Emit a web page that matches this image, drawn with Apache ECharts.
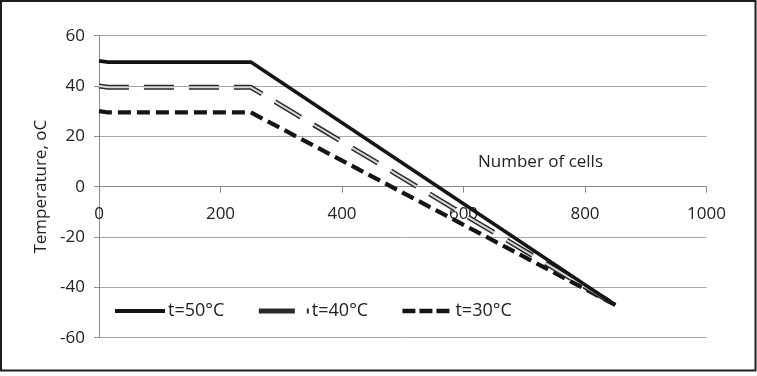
<!DOCTYPE html>
<html>
<head>
<meta charset="utf-8">
<script src="https://cdn.jsdelivr.net/npm/echarts@6/dist/echarts.min.js"></script>
<style>
html,body{margin:0;padding:0;background:#fff;}
#c{width:757px;height:376px;}
</style>
</head>
<body>
<div id="c"></div>
<script>
// Data
const cells = [0, 15, 250, 850];
const t50 = [50, 49.5, 49.5, -47];
const t40 = [40, 39.5, 39.5, -47];
const t30 = [30, 29.5, 29.5, -47];
const seriesNames = ['t=50°C', 't=40°C', 't=30°C'];
const yTicks = [-60, -40, -20, 0, 20, 40, 60];
const xTicks = [0, 200, 400, 600, 800, 1000];

const pairs = (xs, ys) => xs.map((x, i) => [x, ys[i]]);
const FONT = 'Open Sans';
const GRID = {left: 99, right: 50.5, top: 35.7, bottom: 38.3};
const plotH = 376 - GRID.top - GRID.bottom;
const zeroOffset = -plotH * (0 - yTicks[0]) / (yTicks[yTicks.length - 1] - yTicks[0]);

const chart = echarts.init(document.getElementById('c'), null, {renderer: 'canvas'});
chart.setOption({
  animation: false,
  backgroundColor: '#fff',
  textStyle: {fontFamily: FONT},
  grid: Object.assign({containLabel: false}, GRID),
  xAxis: {
    type: 'value', min: xTicks[0], max: xTicks[xTicks.length - 1], interval: 200,
    position: 'bottom', offset: zeroOffset,
    axisLine: {show: true, onZero: false, lineStyle: {color: '#8c8c8c', width: 1}},
    axisTick: {show: true, inside: false, length: 6, lineStyle: {color: '#8c8c8c'}},
    axisLabel: {margin: 19, fontSize: 17, color: '#222', fontFamily: FONT, formatter: v => String(v)},
    splitLine: {show: false}
  },
  yAxis: {
    type: 'value', min: yTicks[0], max: yTicks[yTicks.length - 1], interval: 20,
    name: 'Temperature, oC', nameLocation: 'middle', nameGap: 47, nameRotate: 90,
    nameTextStyle: {fontSize: 17, color: '#222', fontFamily: FONT},
    axisLine: {show: true, lineStyle: {color: '#8c8c8c', width: 1}},
    axisTick: {show: true, length: 5, lineStyle: {color: '#8c8c8c'}},
    axisLabel: {margin: 14, fontSize: 17, color: '#222', fontFamily: FONT},
    splitLine: {show: true, lineStyle: {color: '#a6a6a6', width: 1}}
  },
  legend: {
    data: [
      {name: seriesNames[0], lineStyle: {width: 4, color: '#141414', type: 'solid'}},
      {name: seriesNames[1], lineStyle: {width: 5, color: '#2a2a2a', type: [36, 12]}},
      {name: seriesNames[2], lineStyle: {width: 4.5, color: '#141414', type: [13, 4]}}
    ],
    left: 108, top: 297,
    itemWidth: 50, itemHeight: 14, itemGap: 32,
    itemStyle: {opacity: 0},
    textStyle: {fontSize: 18, color: '#222', fontFamily: FONT, padding: [0, 0, 0, -2]},
    selectedMode: false
  },
  graphic: [
    {type: 'text', left: 478, top: 154, style: {text: 'Number of cells', font: '17px "Open Sans"', fill: '#222'}},
    {type: 'rect', shape: {x: 1, y: 1, width: 754.5, height: 369.5}, style: {fill: 'none', stroke: '#1e1e1e', lineWidth: 2}, silent: true}
  ],
  series: [
    {
      name: seriesNames[0], type: 'line', data: pairs(cells, t50), symbol: 'none', z: 5,
      lineStyle: {color: '#141414', width: 3.6, type: 'solid', join: 'miter'},
      itemStyle: {color: '#141414'}
    },
    {
      name: seriesNames[2], type: 'line', data: pairs(cells, t30), symbol: 'none', z: 3,
      lineStyle: {color: '#141414', width: 4.2, type: [13, 6], cap: 'butt'},
      itemStyle: {color: '#141414'}
    },
    {
      name: seriesNames[1], type: 'line', data: pairs(cells, t40), symbol: 'none', z: 3,
      lineStyle: {color: '#2a2a2a', width: 5, type: [30, 15], cap: 'butt'},
      itemStyle: {color: '#2a2a2a'}
    },
    {
      name: seriesNames[1], type: 'line', data: pairs(cells, t40), symbol: 'none', z: 4,
      lineStyle: {color: '#d8d8d8', width: 2, type: [30, 15], cap: 'butt'},
      itemStyle: {color: '#d8d8d8'}
    }
  ]
});
</script>
</body>
</html>
